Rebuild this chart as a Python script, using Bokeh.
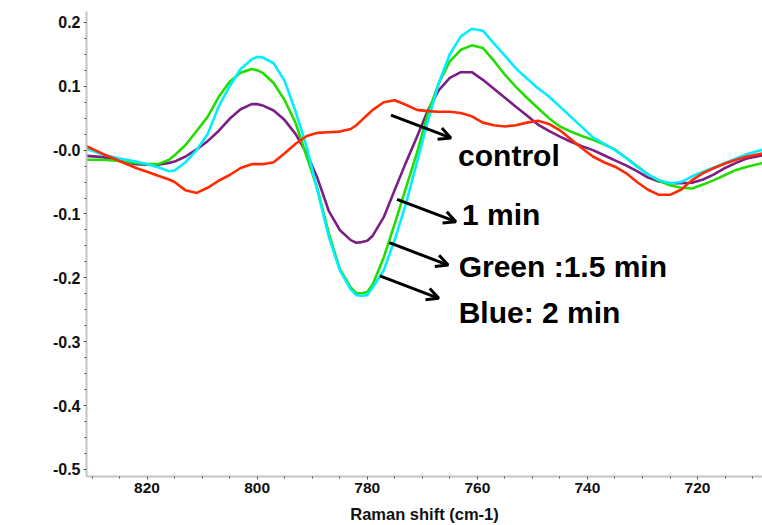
from bokeh.plotting import figure
from bokeh.models import (Range1d, FixedTicker, CustomJSTickFormatter, Arrow,
                          OpenHead, ColumnDataSource)
from bokeh.core.properties import value
from bokeh.embed import file_html
from bokeh.resources import INLINE

# Raman shift axis (cm-1), shared by all spectra
shift = [831, 828, 825, 822, 820, 818, 816, 815, 813, 811, 809, 807, 805, 803,
         801, 800, 799, 797, 795, 793, 791, 789, 787, 785, 783, 782, 781, 780,
         779, 777, 775, 773, 771, 769, 767, 765, 763, 761, 759, 757, 755, 753,
         751, 749, 747, 745, 743, 741, 739, 737, 735, 733, 731, 729, 727, 725,
         723, 721, 719, 717, 715, 713, 711, 708]

control = [0.006, -0.006, -0.017, -0.028, -0.034, -0.040, -0.046, -0.050, -0.063,
           -0.067, -0.059, -0.048, -0.039, -0.028, -0.022, -0.022, -0.022, -0.019,
           -0.005, 0.010, 0.022, 0.027, 0.028, 0.029, 0.033, 0.039, 0.047, 0.055,
           0.063, 0.075, 0.078, 0.071, 0.063, 0.061, 0.060, 0.060, 0.058, 0.053,
           0.043, 0.039, 0.037, 0.039, 0.043, 0.046, 0.041, 0.031, 0.017, 0.003,
           -0.010, -0.019, -0.026, -0.036, -0.050, -0.062, -0.070, -0.070, -0.062,
           -0.047, -0.036, -0.028, -0.021, -0.015, -0.010, -0.005]

min_1 = [-0.009, -0.011, -0.017, -0.022, -0.023, -0.023, -0.020, -0.018, -0.010,
         0.001, 0.014, 0.030, 0.049, 0.064, 0.072, 0.072, 0.070, 0.062, 0.047,
         0.025, -0.005, -0.045, -0.095, -0.125, -0.141, -0.145, -0.144, -0.142,
         -0.134, -0.105, -0.062, -0.020, 0.020, 0.062, 0.094, 0.113, 0.122, 0.122,
         0.110, 0.096, 0.082, 0.068, 0.054, 0.040, 0.030, 0.021, 0.013, 0.006,
         0.000, -0.008, -0.016, -0.024, -0.033, -0.043, -0.049, -0.052, -0.052,
         -0.051, -0.046, -0.038, -0.028, -0.020, -0.013, -0.008]

min_1_5 = [-0.015, -0.015, -0.017, -0.020, -0.022, -0.022, -0.015, -0.008, 0.008,
           0.030, 0.052, 0.083, 0.107, 0.121, 0.127, 0.125, 0.121, 0.105, 0.078,
           0.042, -0.010, -0.062, -0.130, -0.186, -0.215, -0.224, -0.224, -0.222,
           -0.210, -0.168, -0.115, -0.060, -0.005, 0.057, 0.105, 0.139, 0.157,
           0.164, 0.160, 0.140, 0.118, 0.099, 0.082, 0.066, 0.050, 0.037, 0.029,
           0.022, 0.016, 0.009, 0.001, -0.012, -0.025, -0.038, -0.048, -0.055,
           -0.059, -0.060, -0.054, -0.047, -0.039, -0.031, -0.026, -0.020]

min_2 = [0.002, -0.007, -0.013, -0.018, -0.022, -0.027, -0.033, -0.032, -0.019,
         0.000, 0.025, 0.068, 0.100, 0.127, 0.142, 0.146, 0.145, 0.136, 0.108,
         0.060, 0.005, -0.065, -0.135, -0.188, -0.218, -0.227, -0.228, -0.227,
         -0.215, -0.188, -0.140, -0.085, -0.020, 0.045, 0.105, 0.150, 0.178,
         0.190, 0.187, 0.167, 0.148, 0.128, 0.112, 0.097, 0.084, 0.068, 0.052,
         0.036, 0.020, 0.010, 0.000, -0.012, -0.026, -0.038, -0.047, -0.052,
         -0.050, -0.041, -0.034, -0.027, -0.020, -0.013, -0.006, 0.001]

x_ticks = [820, 800, 780, 760, 740, 720]
x_minor = [830, 825, 815, 810, 805, 795, 790, 785, 775, 770, 765, 755, 750,
           745, 735, 730, 725, 715, 710]
y_ticks = [0.2, 0.1, 0.0, -0.1, -0.2, -0.3, -0.4, -0.5]
y_minor = [0.175, 0.15, 0.125, 0.075, 0.05, 0.025, -0.025, -0.05, -0.075,
           -0.125, -0.15, -0.175, -0.225, -0.25, -0.275, -0.325, -0.35, -0.375,
           -0.425, -0.45, -0.475]

# callout labels and their arrows
labels = ["control", "1 min", "Green :1.5 min", "Blue: 2 min"]
label_x = [763.5, 762.8, 763.4, 763.4]
label_y = [-0.009, -0.101, -0.183, -0.254]
arrow_x0 = [775.7, 774.6, 776.0, 777.7]
arrow_y0 = [0.0547, -0.077, -0.145, -0.197]
arrow_x1 = [764.8, 763.9, 765.3, 767.0]
arrow_y1 = [0.019, -0.112, -0.180, -0.232]

FONT = "Liberation Sans"

p = figure(width=762, height=525,
           x_range=Range1d(831, 708.2), y_range=Range1d(-0.511, 0.217),
           output_backend="svg", toolbar_location=None,
           min_border_left=86, min_border_right=0,
           min_border_top=11, min_border_bottom=49)
p.outline_line_color = None
p.xgrid.visible = False
p.ygrid.visible = False
p.background_fill_color = "white"
p.border_fill_color = "white"

series = [(min_1, "#7b1f86"), (min_1_5, "#22dd00"), (min_2, "#00eeff"),
          (control, "#ff2a00")]
for ys, color in series:
    p.line(shift, ys, line_color=color, line_width=2.6)

# axes
for ax in (p.xaxis[0], p.yaxis[0]):
    ax.axis_line_color = "#c4c4c4"
    ax.axis_line_width = 2
    ax.major_tick_line_color = "#555555"
    ax.minor_tick_line_color = "#555555"
    ax.major_tick_in = 0
    ax.major_tick_out = 3
    ax.minor_tick_in = 0
    ax.minor_tick_out = 2
    ax.major_label_text_font = FONT
    ax.major_label_text_font_style = "bold"
    ax.major_label_text_color = "#111111"
    ax.major_label_standoff = 3

p.xaxis.ticker = FixedTicker(ticks=x_ticks, minor_ticks=x_minor)
p.xaxis.major_label_text_font_size = "15.5px"
p.xaxis.axis_label = "Raman shift (cm-1)"
p.xaxis.axis_label_text_font = FONT
p.xaxis.axis_label_text_font_style = "bold"
p.xaxis.axis_label_text_font_size = "16.5px"
p.xaxis.axis_label_text_color = "#111111"
p.xaxis.axis_label_standoff = 9

p.yaxis.ticker = FixedTicker(ticks=y_ticks, minor_ticks=y_minor)
p.yaxis.major_label_text_font_size = "16px"
p.yaxis.formatter = CustomJSTickFormatter(code="""
    const s = tick.toFixed(1);
    return s === "0.0" ? "-0.0" : s;
""")

p.text(x=label_x, y=label_y, text=labels, text_font=value(FONT),
       text_font_style="bold", text_font_size="30px", text_color="black",
       text_align="left", text_baseline="alphabetic")

arrows = ColumnDataSource(dict(x0=arrow_x0, y0=arrow_y0, x1=arrow_x1, y1=arrow_y1))
p.add_layout(Arrow(source=arrows, x_start="x0", y_start="y0", x_end="x1", y_end="y1",
                   line_color="black", line_width=3,
                   end=OpenHead(size=12, line_color="black", line_width=3)))

open("out.html", "w").write(file_html(p, INLINE))
